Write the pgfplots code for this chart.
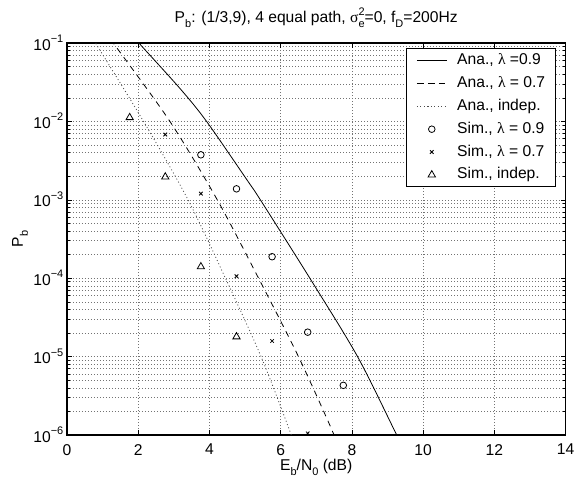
\documentclass[border=0pt]{standalone}
\usepackage{amsmath}
\usepackage{fontspec}
\setmainfont{Liberation Sans}
\newfontfamily\symfont{Liberation Serif}
\usepackage{pgfplots}
\pgfplotsset{compat=1.18}

\newcommand{\lam}{{\symfont λ}}
\newcommand{\tl}[1]{10\raisebox{7.5bp}{\fontsize{11}{11}\selectfont −#1}}
\newcommand{\sbx}[1]{\raisebox{-5bp}{\fontsize{11}{11}\selectfont #1}}
\newcommand{\sps}[2]{\rlap{\raisebox{7bp}{\fontsize{11}{11}\selectfont #1}}\raisebox{-5bp}{\fontsize{11}{11}\selectfont #2}}

\pgfplotsset{myleg/.style={legend image code/.code={\draw[mark repeat=2,mark phase=2,##1] plot coordinates {(0bp,0bp) (15bp,0bp) (30bp,0bp)};}}}

\begin{document}
\fontsize{15.7}{18}\selectfont
\begin{tikzpicture}
\begin{axis}[
  at={(0,0)}, anchor=south west,
  scale only axis, width=498.5bp, height=392bp,
  xmin=0, xmax=14, ymode=log, ymin=1e-6, ymax=1e-1,
  xtick={0,2,...,14},
  ytick={1e-6,1e-5,1e-4,1e-3,1e-2,1e-1},
  yticklabels={\tl{6},\tl{5},\tl{4},\tl{3},\tl{2},\tl{1}},
  xticklabel style={inner sep=0pt, anchor=north, yshift=-9bp},
  yticklabel style={inner sep=0pt, anchor=base east, xshift=-3.5bp, yshift=-7bp},
  /pgf/number format/assume math mode=true,
  tick align=inside, tick pos=both,
  major tick length=5bp, minor tick length=3bp,
  tick style={black, line width=0.6bp},
  axis line style={line width=1.3bp},
  grid=both,
  major grid style={black!55, line width=0.6bp, dash pattern=on 1bp off 2bp},
  minor grid style={black!55, line width=0.6bp, dash pattern=on 1bp off 2bp},
  title={P\sbx{b}: (1/3,9), 4 equal path, {\symfont σ}\sps{2}{e}=0, f\sbx{D}=200Hz},
  title style={at={(axis description cs:0.5,1)}, anchor=base, yshift=15bp, inner sep=0pt},
  xlabel={E\sbx{b}/N\sbx{0} (dB)},
  xlabel style={at={(axis description cs:0.5,-0.0893)}, anchor=base, inner sep=0pt},
  ylabel={P\sbx{b}},
  ylabel style={at={(axis description cs:-0.0943,0.5)}, anchor=center, rotate=0, inner sep=0pt},
  legend style={at={(axis description cs:1,1)}, anchor=north east, xshift=-9.8bp, yshift=-5.3bp,
    draw=black, line width=1bp, fill=white, inner xsep=10bp, inner ysep=4bp,
    row sep=6.8bp, column sep=10bp,
    nodes={inner sep=0pt, text height=12bp, text depth=4bp}},
  legend cell align=left,
]
\addplot[myleg, black, line width=0.8bp, smooth, tension=0.5] coordinates {
(1.5,0.19) (2.02,0.1) (3.17,0.0264) (3.92,0.01) (5.09,1.7e-3) (5.43,1e-3) (6.82,1e-4) (8.16,1e-5) (9.26,1e-6) (9.6,5e-7)};
\addlegendentry{Ana., \lam\ =0.9}
\addplot[myleg, black, line width=0.8bp, dash pattern=on 6bp off 5bp, smooth, tension=0.5] coordinates {
(0.5,0.316) (1.30,0.1) (2.89,0.01) (4.22,1e-3) (5.38,1e-4) (6.50,1e-5) (7.50,1e-6) (7.7,5e-7)};
\addlegendentry{Ana., \lam\ = 0.7}
\addplot[myleg, black!70, line width=0.8bp, dash pattern=on 1bp off 2.5bp, smooth, tension=0.5] coordinates {
(0.6,0.14) (0.8,0.1) (2.15,0.01) (3.4,1e-3) (4.45,1e-4) (5.45,1e-5) (6.3,1e-6) (6.4,7e-7)};
\addlegendentry{Ana., indep.}
\addplot[only marks, myleg, black, mark=o, mark size=3.3bp, mark options={line width=0.8bp}] coordinates {
(3.76,3.75e-3) (4.76,1.38e-3) (5.76,1.88e-4) (6.76,2.05e-5) (7.76,4.3e-6)};
\addlegendentry{Sim., \lam\ = 0.9}
\addplot[only marks, myleg, black, mark=x, mark size=2.5bp, mark options={line width=0.8bp}] coordinates {
(2.76,6.8e-3) (3.76,1.2e-3) (4.76,1.06e-4) (5.76,1.58e-5) (6.76,1.05e-6)};
\addlegendentry{Sim., \lam\ = 0.7}
\addplot[only marks, myleg, black, mark=triangle, mark size=4.2bp, mark options={line width=0.8bp}] coordinates {
(1.76,1.12e-2) (2.76,1.96e-3) (3.76,1.4e-4) (4.76,1.79e-5)};
\addlegendentry{Sim., indep.}
\end{axis}
\pgfresetboundingbox
\path[use as bounding box] (-67bp,-48bp) rectangle (507bp,435bp);
\end{tikzpicture}
\end{document}
